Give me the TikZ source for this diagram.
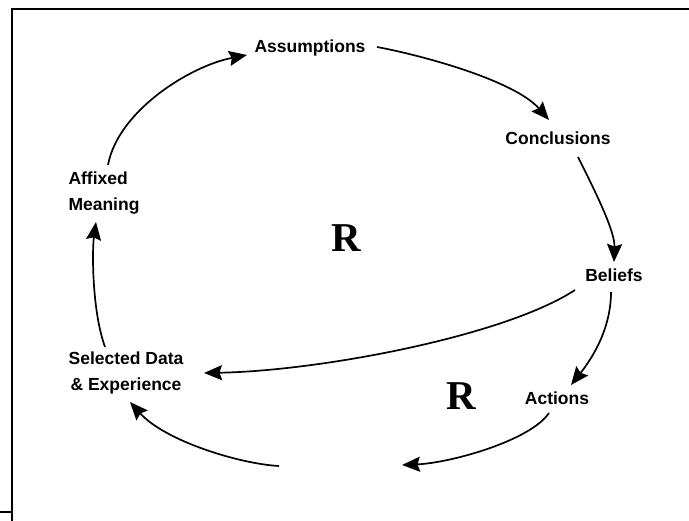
\documentclass[tikz,border=0pt]{standalone}
\usepackage{fontspec}
\setmainfont{Liberation Sans}
\newfontfamily\serifR{Liberation Serif}
\usetikzlibrary{arrows.meta,calc}
\tikzset{
  lbl/.style={font=\fontsize{17.5}{26}\selectfont\bfseries, inner sep=0pt},
  loopR/.style={font=\serifR\fontsize{41}{41}\selectfont\bfseries, inner sep=0pt},
  arr/.style={line width=1.7pt, -{Stealth[length=18pt,width=15pt,inset=2.5pt]}},
  frame/.style={line width=1.6pt}
}
\begin{document}
\begin{tikzpicture}[x=1pt,y=1pt]
  \useasboundingbox (0,0) rectangle (689,521);
  % partial border
  \draw[frame] (12,0) -- (12,512) -- (689,512);
  \draw[frame] (0,9) -- (12,9);

  % labels
  \node[lbl] (ass) at (310,473) {Assumptions};
  \node[lbl] (con) at (558,383) {Conclusions};
  \node[lbl] (bel) at (614,246) {Beliefs};
  \node[lbl] (act) at (557,123) {Actions};
  \node[lbl, align=left] (aff) at (104,328) {Affixed\\Meaning};
  \node[lbl, align=center] (sel) at (126,148) {Selected Data\\\& Experience};
  \node[loopR] (r1) at (346,283) {R};
  \node[loopR] (r2) at (461,125) {R};

  % open ends of the lower loop
  \coordinate (gapR) at (402,56);
  \coordinate (gapL) at (279,55);

  % outer loop
  \draw[arr] ($(aff)+(4,28)$) .. controls (118,410) and (190,455) .. ($(ass)+(-63,-7)$);
  \draw[arr] ($(ass)+(67,1)$) .. controls (425,465) and (515,440) .. ($(con)+(-9,18)$);
  \draw[arr] ($(con)+(20,-19)$) .. controls (595,330) and (615,290) .. ($(bel)+(0,13)$);
  \draw[arr] ($(bel)+(-39,-15)$) .. controls (505,185) and (320,150) .. ($(sel)+(78,0)$);
  \draw[arr] ($(sel)+(-21,26)$) .. controls (92,210) and (92,270) .. ($(aff)+(-8,-29)$);

  % lower loop
  \draw[arr] ($(bel)+(-3,-17)$) .. controls (611,190) and (590,160) .. ($(act)+(14,13)$);
  \draw[arr] ($(act)+(-8,-15)$) .. controls (530,80) and (450,58) .. (gapR);
  \draw[arr] (gapL) .. controls (240,57) and (165,80) .. ($(sel)+(4,-29)$);
\end{tikzpicture}
\end{document}
